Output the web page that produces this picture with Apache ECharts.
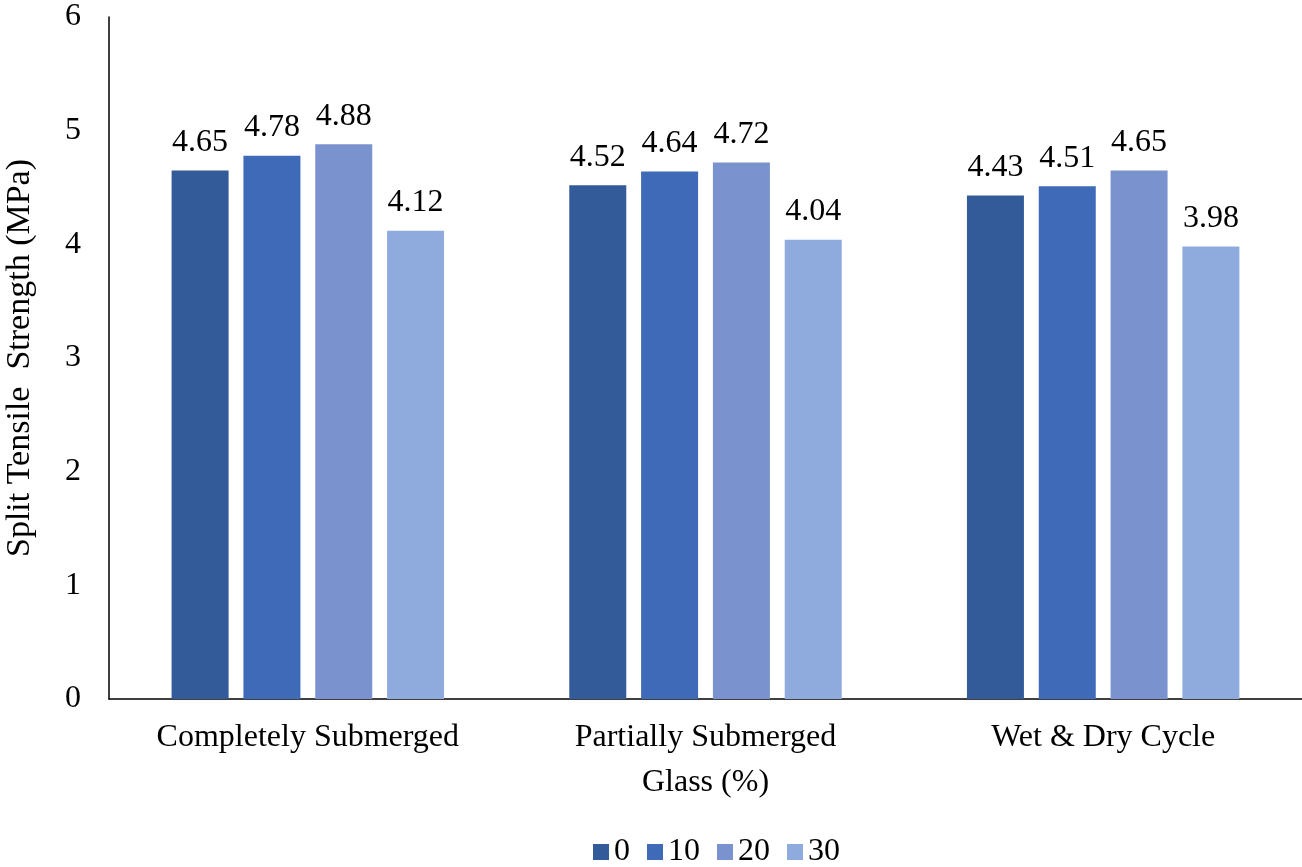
<!DOCTYPE html>
<html>
<head>
<meta charset="utf-8">
<script src="https://cdn.jsdelivr.net/npm/echarts@6/dist/echarts.min.js"></script>
<style>
  html, body { margin: 0; padding: 0; background: #fff; }
  #chart { width: 1302px; height: 867px; }
</style>
</head>
<body>
<div id="chart"></div>
<script>
// Exposure conditions along the x axis
const categories = ['Completely Submerged', 'Partially Submerged', 'Wet & Dry Cycle'];
// Glass replacement levels (%) — one series each
const seriesNames = ['0', '10', '20', '30'];
const glass0 = [4.65, 4.52, 4.43];
const glass10 = [4.78, 4.64, 4.51];
const glass20 = [4.88, 4.72, 4.65];
const glass30 = [4.12, 4.04, 3.98];
const seriesValues = [glass0, glass10, glass20, glass30];
const colors = ['#335A99', '#3E6AB8', '#7A92CE', '#8FABDD'];

const font = 'Liberation Serif, Times New Roman, serif';
const fs = 32;

const chart = echarts.init(document.getElementById('chart'), null, { renderer: 'canvas' });

const series = seriesNames.map((name, i) => ({
  name: name,
  type: 'bar',
  data: seriesValues[i],
  barWidth: 57,
  barGap: '26%',
  itemStyle: { color: colors[i] },
  label: {
    show: true,
    position: 'top',
    distance: 12,
    fontFamily: font,
    fontSize: fs,
    color: '#000',
    formatter: p => p.value.toFixed(2)
  }
}));

chart.setOption({
  animation: false,
  color: colors,
  grid: {
    left: 109, right: 0, top: 17, bottom: 168,
    containLabel: false,
    outerBoundsMode: 'none'
  },
  legend: {
    top: 831,
    left: 588,
    itemWidth: 16,
    itemHeight: 16,
    itemGap: 17,
    icon: 'rect',
    textStyle: { fontFamily: font, fontSize: fs, color: '#000', padding: [0, 0, 0, 0] },
    data: seriesNames
  },
  xAxis: {
    type: 'category',
    data: categories,
    name: 'Glass (%)',
    nameLocation: 'middle',
    nameGap: 68,
    nameTextStyle: { fontFamily: font, fontSize: fs, color: '#000' },
    axisLine: { lineStyle: { color: '#000', width: 1.5 } },
    axisTick: { show: false },
    axisLabel: { fontFamily: font, fontSize: fs, color: '#000', margin: 23 }
  },
  yAxis: {
    type: 'value',
    min: 0,
    max: 6,
    interval: 1,
    name: 'Split Tensile  Strength (MPa)',
    nameLocation: 'middle',
    nameGap: 72,
    nameRotate: 90,
    nameTextStyle: { fontFamily: font, fontSize: 34, color: '#000' },
    axisLine: { show: true, lineStyle: { color: '#000', width: 1.5 } },
    axisTick: { show: false },
    splitLine: { show: false },
    axisLabel: { fontFamily: font, fontSize: fs, color: '#000', margin: 28 }
  },
  series: series
});
</script>
</body>
</html>
